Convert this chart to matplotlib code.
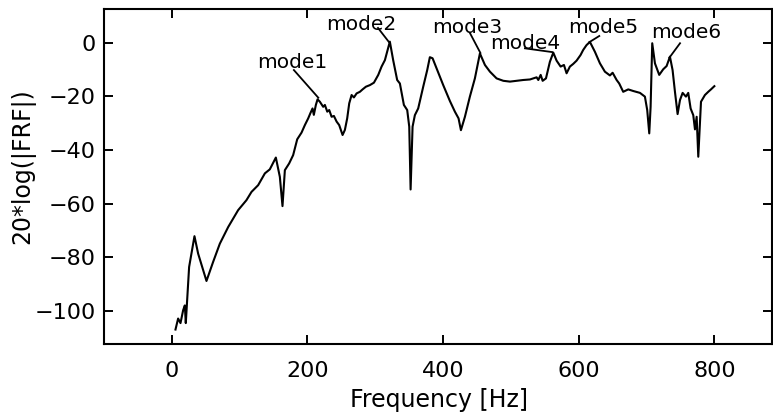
import matplotlib

matplotlib.use("Agg")
import matplotlib.pyplot as plt

# FRF magnitude (Hz, dB)
freq_hz = [
    5.4, 9.3, 12.8, 16.7, 19.2, 20.6, 25.5, 33.4, 38.8, 51.1,
    60.9, 70.8, 83.1, 97.8, 110.0, 117.5, 127.3, 137.2, 144.5, 153.4,
    159.3, 163.2, 166.7, 173.0, 178.9, 184.9, 191.3, 196.2, 201.1, 204.6,
    207.5, 209.4, 212.4, 214.9, 218.3, 223.2, 225.7, 229.2, 232.1, 235.6,
    239.0, 243.0, 246.8, 251.8, 255.2, 258.6, 261.6, 265.1, 268.5, 272.5,
    277.3, 281.3, 286.2, 292.1, 298.0, 304.4, 309.3, 314.2, 321.5, 326.4,
    332.3, 336.3, 342.2, 347.1, 350.1, 352.1, 355.0, 358.4, 363.3, 370.7,
    376.6, 380.5, 384.5, 390.4, 400.2, 410.0, 417.4, 422.8, 426.3, 432.2,
    439.5, 446.9, 451.8, 454.3, 461.7, 469.1, 478.9, 488.8, 498.6, 508.4,
    518.2, 528.1, 537.9, 540.4, 543.9, 546.8, 551.7, 557.5, 562.5, 567.4,
    573.3, 578.2, 582.1, 587.0, 591.9, 596.8, 602.7, 606.6, 611.5, 616.5,
    623.9, 631.3, 638.6, 646.0, 650.0, 655.9, 659.7, 665.6, 673.0, 680.4,
    690.3, 697.6, 701.0, 704.0, 706.0, 708.4, 712.4, 718.7, 724.6, 729.6,
    734.5, 738.4, 741.9, 745.8, 749.3, 753.2, 758.1, 761.5, 765.0, 768.9,
    771.4, 773.9, 776.3, 780.3, 786.1, 791.0, 795.0, 800.0,
]
frf_db = [
    -106.9, -102.8, -104.5, -99.7, -97.9, -104.5, -83.6, -72.1, -78.6, -88.8,
    -81.7, -74.9, -68.7, -62.4, -58.7, -55.6, -53.1, -48.7, -47.2, -42.8,
    -50.0, -60.9, -47.5, -45.0, -41.9, -36.0, -33.5, -30.7, -28.2, -26.1,
    -24.5, -26.9, -23.2, -21.1, -22.0, -23.9, -23.2, -25.7, -25.1, -27.6,
    -27.3, -29.4, -30.7, -34.4, -32.5, -28.2, -22.6, -19.5, -20.4, -18.9,
    -18.3, -17.4, -16.4, -15.8, -14.9, -12.0, -8.9, -6.5, 0.4, -6.5,
    -13.9, -15.2, -23.2, -25.1, -31.3, -54.7, -31.3, -27.0, -24.5, -16.4,
    -10.2, -5.4, -5.8, -9.6, -15.8, -21.7, -25.7, -28.2, -32.6, -27.6,
    -20.1, -13.3, -7.1, -4.0, -8.3, -10.8, -13.3, -14.2, -14.5, -14.2,
    -13.9, -13.7, -12.9, -13.9, -12.0, -14.2, -13.3, -7.1, -3.7, -6.7,
    -8.9, -8.3, -11.4, -8.9, -7.9, -6.7, -4.6, -2.7, -0.9, 0.3,
    -3.4, -7.7, -10.8, -12.2, -11.2, -13.9, -15.2, -18.3, -17.4, -18.0,
    -18.7, -20.1, -25.1, -33.8, -23.9, -0.2, -7.7, -12.0, -9.9, -8.7,
    -5.2, -10.2, -18.3, -26.6, -21.4, -18.7, -20.1, -18.7, -24.5, -27.0,
    -32.3, -27.6, -42.5, -22.0, -19.5, -18.3, -17.4, -16.2,
]

# mode labels: text baseline position, leader start, leader end (Hz, dB)
mode_names = ["mode1", "mode2", "mode3", "mode4", "mode5", "mode6"]
label_pos = [(177, -9.5), (279, 4.7), (436, 3.5), (521.5, -2.35), (636, 3.5), (758, 1.6)]
leader_from = [(180, -10.2), (304, 5.5), (439.6, 3.6), (520.7, -2.1), (630.3, 2.5), (749.4, -0.2)]
leader_to = [(216, -20.5), (320, 0.3), (455, -3.8), (561, -3.5), (615.6, 0.2), (733.6, -5.6)]

fig = plt.figure(figsize=(7.73, 4.16), dpi=100)
ax = fig.add_axes([104 / 773, 71.7 / 416, 668 / 773, 335.3 / 416])

ax.plot(freq_hz, frf_db, color="black", linewidth=1.5)

for name, (tx, ty), (x0, y0), (x1, y1) in zip(mode_names, label_pos, leader_from, leader_to):
    ax.plot([x0, x1], [y0, y1], color="black", linewidth=1.3)
    ax.text(tx, ty, name, ha="center", va="baseline", fontsize=14.5)

ax.set_xlim(-100, 885)
ax.set_ylim(-112.4, 12.56)
ax.set_xticks([0, 200, 400, 600, 800])
ax.set_yticks([-100, -80, -60, -40, -20, 0])

ax.tick_params(axis="both", direction="in", length=6.5, width=1.4,
               top=True, right=True, labelsize=16)
ax.tick_params(axis="x", pad=12)
ax.tick_params(axis="y", pad=6)
for sp in ax.spines.values():
    sp.set_linewidth(1.5)

ax.set_xlabel("Frequency [Hz]", fontsize=17, va="baseline")
ax.xaxis.set_label_coords(0.5015, -0.187)
ax.set_ylabel("20*log(|FRF|)", fontsize=17, va="center")
ax.yaxis.set_label_coords(-0.121, 0.53)

fig.savefig("out.png", dpi=100, facecolor="white")
plt.close(fig)
